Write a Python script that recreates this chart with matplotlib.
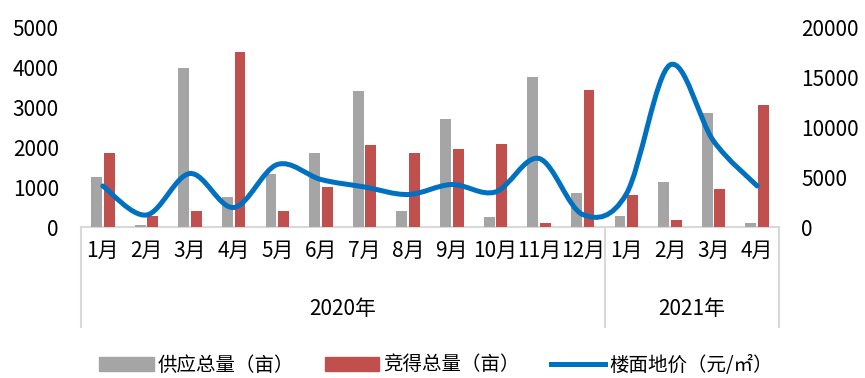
import numpy as np
import matplotlib
matplotlib.use("Agg")
import matplotlib.pyplot as plt
from matplotlib.path import Path
from matplotlib.patches import PathPatch, Patch
from matplotlib.lines import Line2D
from matplotlib.transforms import blended_transform_factory

plt.rcParams['font.family'] = ['Noto Sans CJK SC', 'DejaVu Sans']

# data
months = ['1月', '2月', '3月', '4月', '5月', '6月', '7月', '8月', '9月', '10月', '11月', '12月',
          '1月', '2月', '3月', '4月']
years = ['2020年', '2021年']
year_counts = [12, 4]
supply = [1260, 50, 3980, 750, 1320, 1850, 3410, 390, 2710, 260, 3740, 850,
          270, 1130, 2840, 100]
acquired = [1860, 270, 400, 4370, 400, 1010, 2060, 1860, 1960, 2070, 110, 3420,
            810, 170, 960, 3060]
floor_price = [4100, 1200, 5350, 1950, 6250, 4750, 4000, 3250, 4250, 3500, 6850, 1250,
               3300, 16200, 8600, 4100]

GRAY = '#A5A5A5'
RED = '#C0504D'
BLUE = '#0070C0'
AXIS = '#D9D9D9'

fig = plt.figure(figsize=(8.65, 3.78), dpi=100)
ax = fig.add_axes([81 / 865, 1 - 227 / 378, 698 / 865, 200 / 378])
ax2 = ax.twinx()

x = np.arange(len(months))
w = 0.25
ax.bar(x - 0.145, supply, w, color=GRAY, zorder=2)
ax.bar(x + 0.145, acquired, w, color=RED, zorder=2)

# smoothed line (Excel-style bezier through the data points)
px = x.astype(float)
py = np.array(floor_price, dtype=float)
verts = [(px[0], py[0])]
codes = [Path.MOVETO]
n = len(px)
for i in range(n - 1):
    p0 = np.array([px[max(i - 1, 0)], py[max(i - 1, 0)]])
    p1 = np.array([px[i], py[i]])
    p2 = np.array([px[i + 1], py[i + 1]])
    p3 = np.array([px[min(i + 2, n - 1)], py[min(i + 2, n - 1)]])
    c1 = p1 + (p2 - p0) / 6
    c2 = p2 - (p3 - p1) / 6
    verts += [tuple(c1), tuple(c2), tuple(p2)]
    codes += [Path.CURVE4] * 3
ax2.add_patch(PathPatch(Path(verts, codes), facecolor='none', edgecolor=BLUE,
                        lw=3.6, capstyle='round', joinstyle='round', zorder=3))

ax.set_xlim(-0.5, len(months) - 0.5)
ax.set_ylim(0, 5000)
ax.set_yticks(range(0, 5001, 1000))
ax2.set_ylim(0, 20000)
ax2.set_yticks(range(0, 20001, 5000))

ax.set_xticks(x)
ax.set_xticklabels(months, fontsize=15)
ax.tick_params(axis='x', length=0, pad=9)
ax.tick_params(axis='y', length=0, pad=16, labelsize=15)
ax2.tick_params(axis='y', length=0, pad=16, labelsize=15)

for a in (ax, ax2):
    for s in ('top', 'left', 'right', 'bottom'):
        a.spines[s].set_visible(False)
ax.axhline(0, color=AXIS, lw=1.5, zorder=1, clip_on=False)

# group axis for years
trans = blended_transform_factory(ax.transData, ax.transAxes)
edges = np.concatenate([[0], np.cumsum(year_counts)]) - 0.5
for e in edges:
    ax.plot([e, e], [0, -0.5], color=AXIS, lw=1.5, transform=trans, clip_on=False)
for i, yr in enumerate(years):
    ax.text((edges[i] + edges[i + 1]) / 2, -0.41, yr, transform=trans,
            ha='center', va='center', fontsize=15)

handles = [Patch(color=GRAY), Patch(color=RED), Line2D([], [], color=BLUE, lw=3.6)]
labels = ['供应总量（亩）', '竞得总量（亩）', '楼面地价（元/㎡）']
fig.legend(handles, labels, loc='center', bbox_to_anchor=(436 / 865, 1 - 365 / 378),
           ncol=3, frameon=False, fontsize=14, handlelength=2.8, handleheight=0.7,
           handletextpad=0.2, columnspacing=1.6)

fig.savefig('out.png', dpi=100)
